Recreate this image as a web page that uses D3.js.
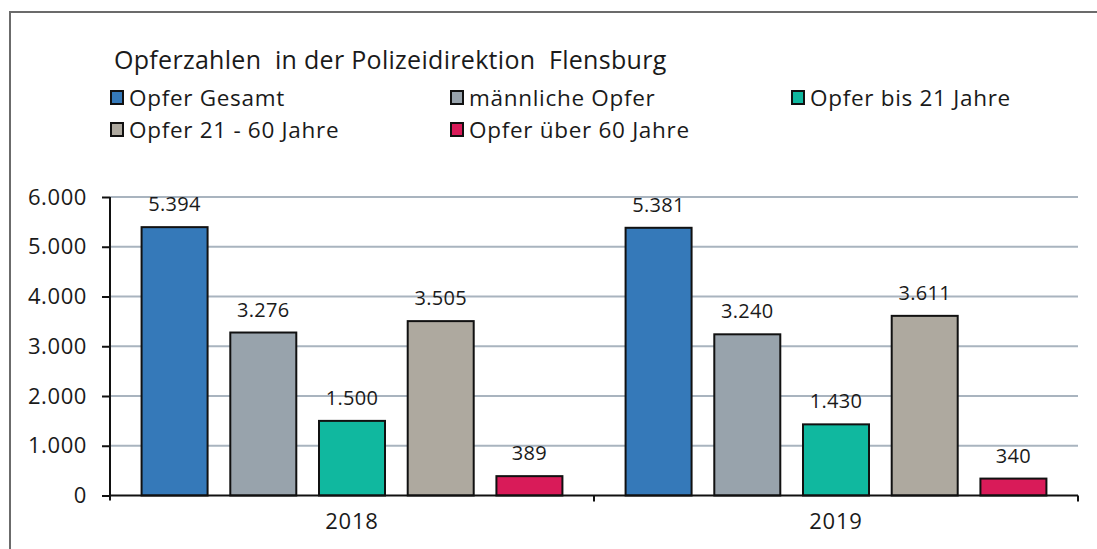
<!DOCTYPE html>
<html>
<head>
<meta charset="utf-8">
<script src="https://cdn.jsdelivr.net/npm/d3@7"></script>
<style>
  html, body { margin: 0; padding: 0; background: #fff; }
  svg text { font-family: "Open Sans", Lato, sans-serif; fill: #1a1a1a; }
</style>
</head>
<body>
<svg id="chart" width="1097" height="549"></svg>
<script>
// Victim counts, Polizeidirektion Flensburg
const years = ["2018", "2019"];
const seriesNames = ["Opfer Gesamt", "männliche Opfer", "Opfer bis 21 Jahre", "Opfer 21 - 60 Jahre", "Opfer über 60 Jahre"];
const seriesColors = ["#3579b9", "#98a3ac", "#10b89f", "#aea99f", "#d91b59"];
const values2018 = [5394, 3276, 1500, 3505, 389];
const values2019 = [5381, 3240, 1430, 3611, 340];
const yTicks = [0, 1000, 2000, 3000, 4000, 5000, 6000];
const titleText = "Opferzahlen  in der Polizeidirektion  Flensburg";

const valuesByYear = { "2018": values2018, "2019": values2019 };
const fmt = v => d3.format(",")(v).replace(/,/g, ".");
const FONT = "'Open Sans', Lato, sans-serif";

const svg = d3.select("#chart");

// outer frame (top and left edges)
svg.append("path")
  .attr("d", "M10,1000 L10,12 L1097,12")
  .attr("fill", "none").attr("stroke", "#6b6b6b").attr("stroke-width", 2);

const plot = { left: 110, right: 1078, top: 197, bottom: 495.5 };

const x0 = d3.scaleBand().domain(years).range([plot.left, plot.right]).padding(0);
const x1 = d3.scaleBand().domain(seriesNames).range([0, x0.bandwidth()])
  .paddingInner(0.256).paddingOuter(0.356);
const y = d3.scaleLinear().domain([0, 6000]).range([plot.bottom, plot.top]);

// gridlines
svg.append("g").selectAll("line").data(yTicks.slice(1)).join("line")
  .attr("x1", plot.left).attr("x2", plot.right)
  .attr("y1", d => y(d)).attr("y2", d => y(d))
  .attr("stroke", "#a9b4bf").attr("stroke-width", 2);

// bars
const groups = svg.append("g").selectAll("g").data(years).join("g")
  .attr("transform", d => `translate(${x0(d)},0)`);

groups.selectAll("rect")
  .data(yr => valuesByYear[yr].map((v, i) => ({ v, name: seriesNames[i], color: seriesColors[i] })))
  .join("rect")
  .attr("x", d => x1(d.name))
  .attr("width", x1.bandwidth())
  .attr("y", d => y(d.v))
  .attr("height", d => y(0) - y(d.v))
  .attr("fill", d => d.color)
  .attr("stroke", "#111").attr("stroke-width", 2);

groups.selectAll("text.val")
  .data(yr => valuesByYear[yr].map((v, i) => ({ v, name: seriesNames[i] })))
  .join("text").attr("class", "val")
  .attr("x", d => x1(d.name) + x1.bandwidth() / 2)
  .attr("y", d => y(d.v) - 16)
  .attr("text-anchor", "middle")
  .attr("font-size", 20).attr("letter-spacing", 0.3)
  .text(d => fmt(d.v));

// y axis
const yAxis = d3.axisLeft(y).tickValues(yTicks).tickFormat(fmt).tickSize(8).tickPadding(15);
const gy = svg.append("g").attr("transform", `translate(${plot.left},0)`).call(yAxis);
gy.select(".domain").attr("stroke", "#111").attr("stroke-width", 2)
  .attr("d", `M0,${plot.top}V${plot.bottom + 5}`);
gy.selectAll(".tick line").attr("stroke", "#111").attr("stroke-width", 2);
gy.selectAll(".tick text").attr("font-size", 22).attr("letter-spacing", 0.6).attr("fill", "#1a1a1a")
  .style("font-family", FONT);

// x axis
const xAxis = d3.axisBottom(x0).tickSize(0).tickPadding(18);
const gx = svg.append("g").attr("transform", `translate(0,${plot.bottom})`).call(xAxis);
gx.select(".domain").attr("stroke", "#111").attr("stroke-width", 2)
  .attr("d", `M${plot.left},0H${plot.right}`);
gx.selectAll(".tick text").attr("font-size", 22).attr("letter-spacing", 0.8).attr("fill", "#1a1a1a")
  .style("font-family", FONT);
// category separator ticks
const sepX = [x0("2019"), plot.right];
svg.append("g").selectAll("line").data(sepX).join("line")
  .attr("x1", d => d).attr("x2", d => d)
  .attr("y1", plot.bottom).attr("y2", plot.bottom + 6)
  .attr("stroke", "#111").attr("stroke-width", 2);

// title
svg.append("text").attr("x", 114).attr("y", 69)
  .attr("font-size", 25).attr("letter-spacing", 0.3).style("white-space", "pre")
  .text(titleText);

// legend
const legendPos = [
  { x: 110, y: 98 }, { x: 450, y: 98 }, { x: 791, y: 98 },
  { x: 110, y: 130 }, { x: 450, y: 130 }
];
const leg = svg.append("g").selectAll("g").data(seriesNames).join("g")
  .attr("transform", (d, i) => `translate(${legendPos[i].x},${legendPos[i].y})`);
leg.append("rect").attr("x", 1).attr("y", -7).attr("width", 12).attr("height", 13)
  .attr("fill", (d, i) => seriesColors[i]).attr("stroke", "#111").attr("stroke-width", 2);
leg.append("text").attr("x", 19).attr("y", 8).attr("font-size", 22.5).attr("letter-spacing", 0.7).text(d => d);
</script>
</body>
</html>
